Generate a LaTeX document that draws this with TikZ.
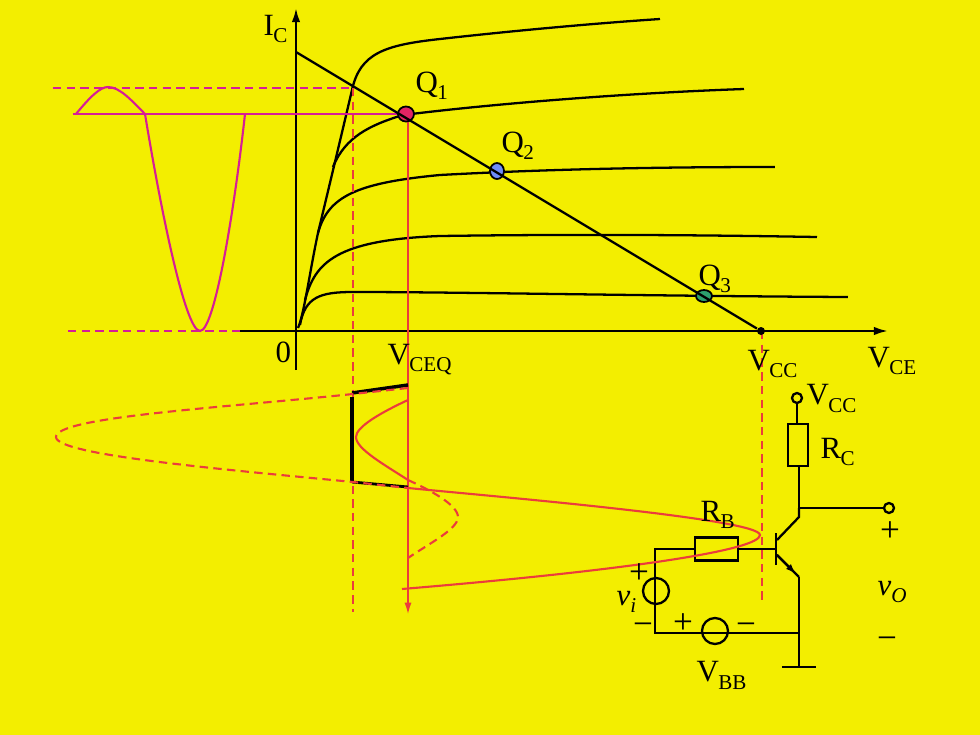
\documentclass[tikz,border=0pt]{standalone}
\usepackage{fontspec}
\setmainfont{Liberation Serif}
\usetikzlibrary{shapes.geometric, arrows.meta, calc}
\definecolor{bgyellow}{RGB}{243,238,0}
\definecolor{sigpink}{RGB}{214,30,150}
\definecolor{sigred}{RGB}{235,60,60}
\definecolor{qred}{RGB}{224,36,100}
\definecolor{qblue}{RGB}{110,140,250}
\definecolor{qgreen}{RGB}{45,160,110}
\newcommand{\lbl}[2]{#1\kern-0.2pt\raisebox{-0.55ex}{\fontsize{6}{7}\selectfont #2}}
\tikzset{
    wire/.style={line width=0.65pt, black},
    axisline/.style={wire, -{Latex[length=4pt, width=2.4pt]}},
    txt/.style={anchor=base west, inner sep=0pt, font=\fontsize{8.8}{10}\selectfont},
    mark sign/.style={inner sep=0pt, font=\fontsize{10}{12}\selectfont},
    qdot/.style={ellipse, draw=black, line width=0.5pt, inner sep=0pt, minimum width=#1},
    qdot/.default=0.15cm,
    pin/.style={circle, draw=black, line width=0.65pt, inner sep=0pt, minimum size=0.1cm},
    src/.style={circle, draw=black, line width=0.65pt, inner sep=0pt, minimum size=0.26cm},
    res/.style={rectangle, draw=black, line width=0.65pt, inner sep=0pt},
    pinkl/.style={line width=0.6pt, sigpink},
    pinkd/.style={line width=0.6pt, sigpink, dash pattern=on 2.4pt off 1.5pt},
    redl/.style={line width=0.6pt, sigred},
    redd/.style={line width=0.6pt, sigred, dash pattern=on 2.4pt off 1.5pt}
}
\begin{document}
\begin{tikzpicture}
    \fill[bgyellow] (0, 0) rectangle (9.8, 7.35);
    \useasboundingbox (0, 0) rectangle (9.8, 7.35);
    % axes
    \draw[axisline] (2.96, 3.65) -- (2.96, 7.27);
    \draw[axisline] (2.40, 4.04) -- (8.88, 4.04);
    % output curves
    \draw[wire] (2.98, 4.07) .. controls (3.04, 4.20) and (3.10, 4.65) .. (3.18, 5.02) .. controls (3.29, 5.48) and (3.41, 5.98) .. (3.52, 6.45) .. controls (3.60, 6.82) and (3.85, 6.90) .. (4.40, 6.96) .. controls (5.2, 7.05) and (6.0, 7.12) .. (6.60, 7.16);
    \draw[wire] (3.33, 5.68) .. controls (3.45, 5.98) and (3.70, 6.10) .. (4.03, 6.20) .. controls (5.0, 6.32) and (6.3, 6.42) .. (7.44, 6.46);
    \draw[wire] (3.18, 5.02) .. controls (3.28, 5.38) and (3.55, 5.52) .. (4.40, 5.60) .. controls (5.5, 5.66) and (6.6, 5.68) .. (7.75, 5.68);
    \draw[wire] (3.05, 4.35) .. controls (3.15, 4.72) and (3.35, 4.95) .. (4.40, 4.99) .. controls (5.8, 5.01) and (7.0, 5.00) .. (8.17, 4.98);
    \draw[wire] (3.00, 4.10) .. controls (3.05, 4.38) and (3.20, 4.43) .. (3.53, 4.43) .. controls (4.6, 4.43) and (6.5, 4.39) .. (8.48, 4.38);
    % input signal
    \draw[pinkd] (0.53, 6.47) -- (3.52, 6.47);
    \draw[pinkd] (0.68, 4.04) -- (2.40, 4.04);
    \draw[pinkl] (0.73, 6.21) -- (4.00, 6.21);
    \draw[pinkl] (0.76, 6.21) .. controls (0.90, 6.38) and (1.00, 6.48) .. (1.08, 6.48) .. controls (1.20, 6.48) and (1.32, 6.34) .. (1.45, 6.21) .. controls (1.60, 5.30) and (1.85, 4.04) .. (2.00, 4.04) .. controls (2.15, 4.04) and (2.35, 5.30) .. (2.45, 6.21);
    % projections
    \coordinate (ceqend) at (4.08, 1.20);
    \coordinate (ccend) at (7.62, 1.35);
    \coordinate (ccfoot) at (7.62, 4.04);
    \coordinate (ctop) at (4.08, 6.21);
    \draw[redd] (3.53, 6.47) -- (3.53, 1.23);
    \draw[redl, -{Latex[length=3.5pt, width=2pt]}] (ctop) -- (ceqend);
    \draw[redd] (ccfoot) -- (ccend);
    % output waveform
    \draw[line width=1pt] (3.52, 3.42) -- (4.08, 3.50);
    \draw[line width=1pt] (3.52, 3.38) -- (3.52, 2.53);
    \draw[line width=0.8pt] (3.52, 2.53) -- (4.08, 2.48);
    \draw[redd] (4.08, 3.47) -- (3.53, 3.41) .. controls (2.2, 3.27) and (0.56, 3.18) .. (0.56, 2.98) .. controls (0.56, 2.80) and (2.2, 2.66) .. (3.53, 2.53) -- (4.08, 2.47);
    \draw[redl] (4.08, 3.35) .. controls (3.80, 3.22) and (3.56, 3.08) .. (3.56, 2.98) .. controls (3.56, 2.86) and (3.85, 2.70) .. (4.08, 2.55);
    \draw[redd] (4.08, 2.55) .. controls (4.30, 2.45) and (4.58, 2.30) .. (4.58, 2.18) .. controls (4.58, 2.06) and (4.30, 1.92) .. (4.08, 1.77);
    % circuit
    \node[pin] (vccpin) at (7.97, 3.37) {};
    \node[res, minimum width=0.2cm, minimum height=0.42cm] (rc) at (7.98, 2.90) {};
    \node[pin] (outpin) at (8.89, 2.27) {};
    \node[res, minimum width=0.43cm, minimum height=0.23cm] (rb) at (7.165, 1.86) {};
    \node[src] (visrc) at (6.56, 1.44) {};
    \node[src] (vbbsrc) at (7.15, 1.04) {};
    \coordinate (coll) at (7.99, 2.27);
    \coordinate (cbend) at (7.99, 2.18);
    \coordinate (base) at (7.76, 1.86);
    \coordinate (ebend) at (7.99, 1.58);
    \coordinate (gnd) at (7.99, 0.68);
    \coordinate (rtn) at (7.99, 1.02);
    \coordinate (cnrtop) at (6.55, 1.86);
    \coordinate (cnrbot) at (6.55, 1.02);
    \draw[wire] (vccpin) -- (rc.north -| vccpin);
    \draw[wire] (rc.south -| coll) -- (coll) -- (outpin);
    \draw[wire] (coll) -- (cbend) -- (7.77, 1.95);
    \draw[wire] (7.76, 2.02) -- (7.76, 1.70);
    \draw[wire] (rb.east) -- (base);
    \draw[wire] (rb.west) -- (cnrtop) -- (cnrbot) -- (rtn);
    \draw[wire] (7.77, 1.80) -- (ebend);
    \draw[wire, -{Latex[length=3pt, width=2pt]}] (7.77, 1.80) -- (7.96, 1.61);
    \draw[wire] (ebend) -- (gnd);
    \draw[wire] (7.82, 0.68) -- (8.16, 0.68);
    % main output swing
    \draw[redl] (4.08, 2.47) .. controls (5.0, 2.38) and (7.60, 2.16) .. (7.60, 2.00) .. controls (7.60, 1.85) and (6.3, 1.65) .. (4.02, 1.46);
    % point Q
    \node[qdot=0.16cm, minimum height=0.15cm, fill=qred] (qone) at (4.06, 6.21) {};
    \node[qdot=0.14cm, minimum height=0.16cm, fill=qblue] (qtwo) at (4.97, 5.64) {};
    \node[qdot=0.16cm, minimum height=0.12cm, fill=qgreen] (qthr) at (7.04, 4.39) {};
    \node[circle, fill=black, inner sep=0pt, minimum size=0.08cm] (vccdot) at (7.61, 4.04) {};
    \coordinate (isat) at (2.96, 6.83);
    \draw[wire] (isat) -- (vccdot);
    % labels
    \node[txt] (lic) at (2.63, 7.00) {\lbl{I}{C}};
    \node[txt] (lzero) at (2.75, 3.73) {0};
    \node[txt] (lqone) at (4.15, 6.43) {\lbl{Q}{1}};
    \node[txt] (lqtwo) at (5.01, 5.83) {\lbl{Q}{2}};
    \node[txt] (lqthr) at (6.98, 4.50) {\lbl{Q}{3}};
    \node[txt] (lceq) at (3.87, 3.71) {\lbl{V}{CEQ}};
    \node[txt] (lcc) at (7.47, 3.65) {\lbl{V}{CC}};
    \node[txt] (lce) at (8.67, 3.68) {\lbl{V}{CE}};
    \node[txt] (lvcc) at (8.06, 3.30) {\lbl{V}{CC}};
    \node[txt] (lrc) at (8.20, 2.77) {\lbl{R}{C}};
    \node[txt] (lrb) at (7.00, 2.14) {\lbl{R}{B}};
    \node[txt] (lbb) at (6.96, 0.53) {\lbl{V}{BB}};
    \node[txt] (lvi) at (6.16, 1.30) {\textit{v}\raisebox{-0.55ex}{\fontsize{6}{7}\selectfont\textit{i}}};
    \node[txt] (lvo) at (8.77, 1.40) {\textit{v}\raisebox{-0.55ex}{\fontsize{6}{7}\selectfont\textit{O}}};
    \node[mark sign] (sa) at (6.39, 1.61) {+};
    \node[mark sign] (sb) at (6.43, 1.06) {−};
    \node[mark sign] (sc) at (6.83, 1.11) {+};
    \node[mark sign] (sd) at (7.46, 1.06) {−};
    \node[mark sign] (se) at (8.90, 2.03) {+};
    \node[mark sign] (sf) at (8.87, 0.92) {−};
\end{tikzpicture}
\end{document}
